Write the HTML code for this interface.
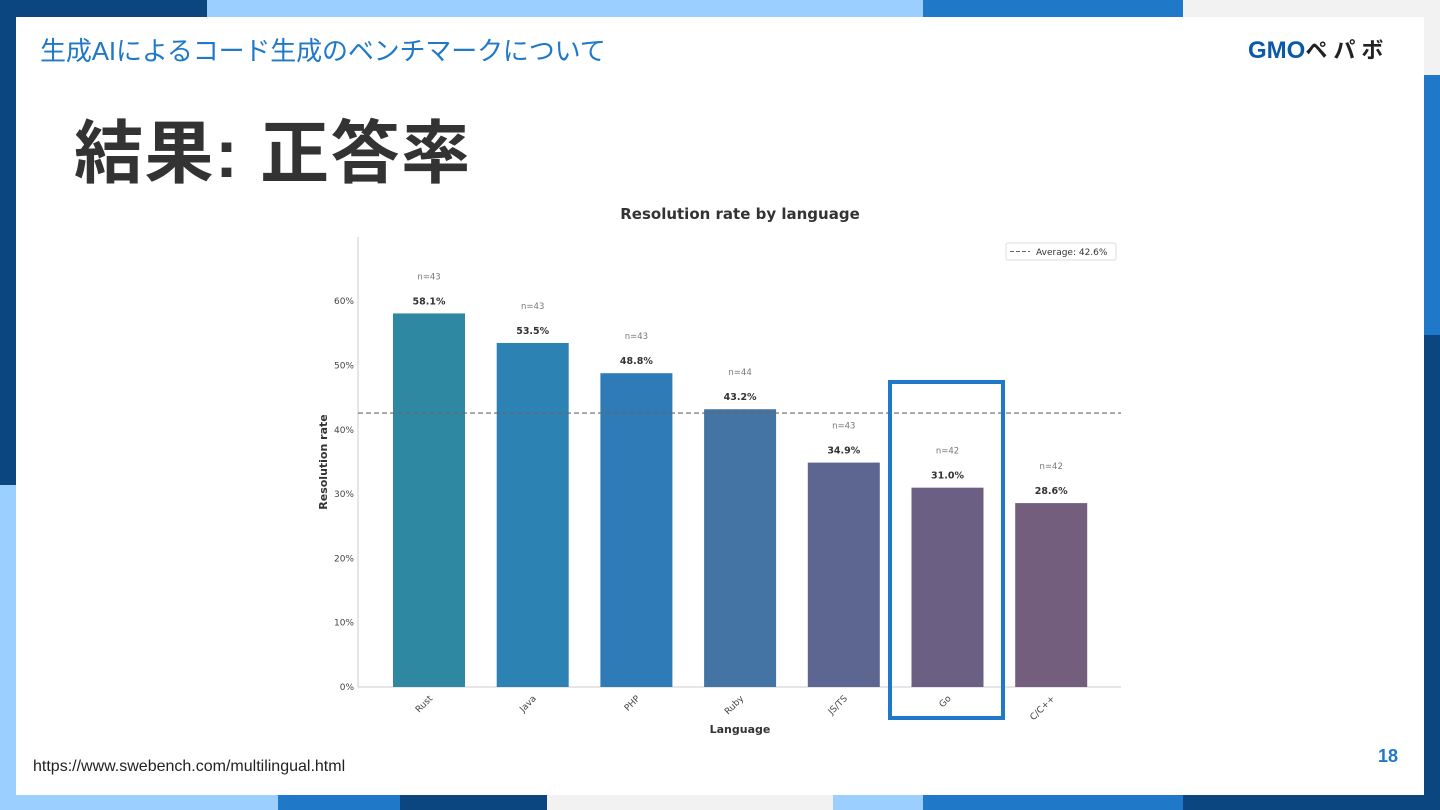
<!DOCTYPE html>
<html><head><meta charset="utf-8"><style>
body{margin:0;width:1440px;height:810px;position:relative;overflow:hidden;background:#fff;font-family:"Liberation Sans","Noto Sans CJK JP",sans-serif}
.b{position:absolute}
</style></head><body>
<div class="b" style="left:0;top:0;width:207px;height:17px;background:#0b4680"></div>
<div class="b" style="left:207px;top:0;width:716px;height:17px;background:#9bcfff"></div>
<div class="b" style="left:923px;top:0;width:260px;height:17px;background:#1f78c8"></div>
<div class="b" style="left:1183px;top:0;width:257px;height:17px;background:#f2f2f2"></div>
<div class="b" style="left:0;top:0;width:16px;height:485px;background:#0b4680"></div>
<div class="b" style="left:0;top:485px;width:16px;height:325px;background:#9bcfff"></div>
<div class="b" style="left:1424px;top:0;width:16px;height:75px;background:#f2f2f2"></div>
<div class="b" style="left:1424px;top:75px;width:16px;height:260px;background:#1f78c8"></div>
<div class="b" style="left:1424px;top:335px;width:16px;height:475px;background:#0b4680"></div>
<div class="b" style="left:0;top:795px;width:278px;height:15px;background:#9bcfff"></div>
<div class="b" style="left:278px;top:795px;width:122px;height:15px;background:#1f78c8"></div>
<div class="b" style="left:400px;top:795px;width:147px;height:15px;background:#0b4680"></div>
<div class="b" style="left:547px;top:795px;width:286px;height:15px;background:#f2f2f2"></div>
<div class="b" style="left:833px;top:795px;width:90px;height:15px;background:#9bcfff"></div>
<div class="b" style="left:923px;top:795px;width:260px;height:15px;background:#1f78c8"></div>
<div class="b" style="left:1183px;top:795px;width:257px;height:15px;background:#0b4680"></div>
<div class="b" style="left:16px;top:17px;width:1408px;height:778px;background:#fff"></div>

<div class="b" style="left:40px;top:31px;font-size:26px;color:#1f78c8;letter-spacing:-0.15px">生成AIによるコード生成のベンチマークについて</div>
<div class="b" style="left:1248px;top:33px;font-size:24px;font-weight:bold;color:#0b5aa8;letter-spacing:0px">GMO<span style="color:#222;font-size:22px;letter-spacing:6px">ペパボ</span></div>
<div class="b" style="left:74px;top:110px;font-size:69px;font-weight:bold;color:#333;line-height:88px;letter-spacing:1.5px">結果: 正答率</div>
<div class="b" style="left:33px;top:758px;font-size:16px;color:#222">https://www.swebench.com/multilingual.html</div>
<div class="b" style="left:1378px;top:746px;font-size:18px;font-weight:bold;color:#1f78c8">18</div>

<svg class="b" style="left:0;top:0" width="1440" height="810" font-family="DejaVu Sans, Liberation Sans, sans-serif">
<g id="g"></g>
</svg>
<script>
const categories=["Rust","Java","PHP","Ruby","JS/TS","Go","C/C++"];
const rates=[58.1,53.5,48.8,43.2,34.9,31.0,28.6];
const counts=[43,43,43,44,43,42,42];
const colors=["#2e88a2","#2c83b3","#2e7bb8","#4474a4","#5d6690","#6b6083","#735e7e"];
const yTicks=[0,10,20,30,40,50,60];
const average=42.6;
const NS="http://www.w3.org/2000/svg";
const g=document.getElementById('g');
const x0=358,x1=1121,y0=687,pxPer=6.43;
const y=v=>y0-v*pxPer;
const step=103.7,bw=72;
const xc=i=>429+i*step;
function mk(t,a,txt){const e=document.createElementNS(NS,t);for(const k in a)e.setAttribute(k,a[k]);if(txt!==undefined)e.textContent=txt;g.appendChild(e);return e;}
let e;
e=mk('text',{x:740,y:219,'text-anchor':'middle','font-size':15,'font-weight':'bold',fill:'#333'},'Resolution rate by language');


e=mk('line',{x1:x0,y1:237,x2:x0,y2:y0,stroke:'#ccc'});


e=mk('line',{x1:x0,y1:y0,x2:x1,y2:y0,stroke:'#ccc'});


yTicks.forEach(t=>{e=mk('text',{x:354,y:y(t)+3,'text-anchor':'end','font-size':9,fill:'#444'},t+'%');

});
categories.forEach((c,i)=>{
 e=mk('rect',{x:xc(i)-bw/2,y:y(rates[i]),width:bw,height:y0-y(rates[i]),fill:colors[i]});
 
 
 e=mk('text',{x:xc(i),y:y(rates[i])-9,'text-anchor':'middle','font-size':9.5,'font-weight':'bold',fill:'#333'},rates[i].toFixed(1)+'%');
 
 
 e=mk('text',{x:xc(i),y:y(rates[i])-34,'text-anchor':'middle','font-size':8.5,fill:'#777'},'n='+counts[i]);
 
 
 e=mk('text',{x:xc(i)+4,y:y0+12,'text-anchor':'end','font-size':9,fill:'#444',transform:`rotate(-45 ${xc(i)+4} ${y0+12})`},c);
 
 
});
e=mk('line',{x1:x0,y1:y(average),x2:x1,y2:y(average),stroke:'#666','stroke-dasharray':'5,3','stroke-width':1.2});


e=mk('rect',{x:1006,y:243,width:110,height:17,rx:2,fill:'#fff',stroke:'#ddd'});


e=mk('line',{x1:1010,y1:251.5,x2:1030,y2:251.5,stroke:'#666','stroke-dasharray':'4,2'});


e=mk('text',{x:1036,y:255,'font-size':9,fill:'#333'},'Average: '+average+'%');


e=mk('text',{x:740,y:733,'text-anchor':'middle','font-size':11,'font-weight':'bold',fill:'#333'},'Language');


e=mk('text',{x:327,y:462,'text-anchor':'middle','font-size':11,'font-weight':'bold',fill:'#333',transform:'rotate(-90 327 462)'},'Resolution rate');


e=mk('rect',{x:890,y:382,width:113,height:336,fill:'none',stroke:'#1f78c8','stroke-width':4});


</script>
</body></html>
